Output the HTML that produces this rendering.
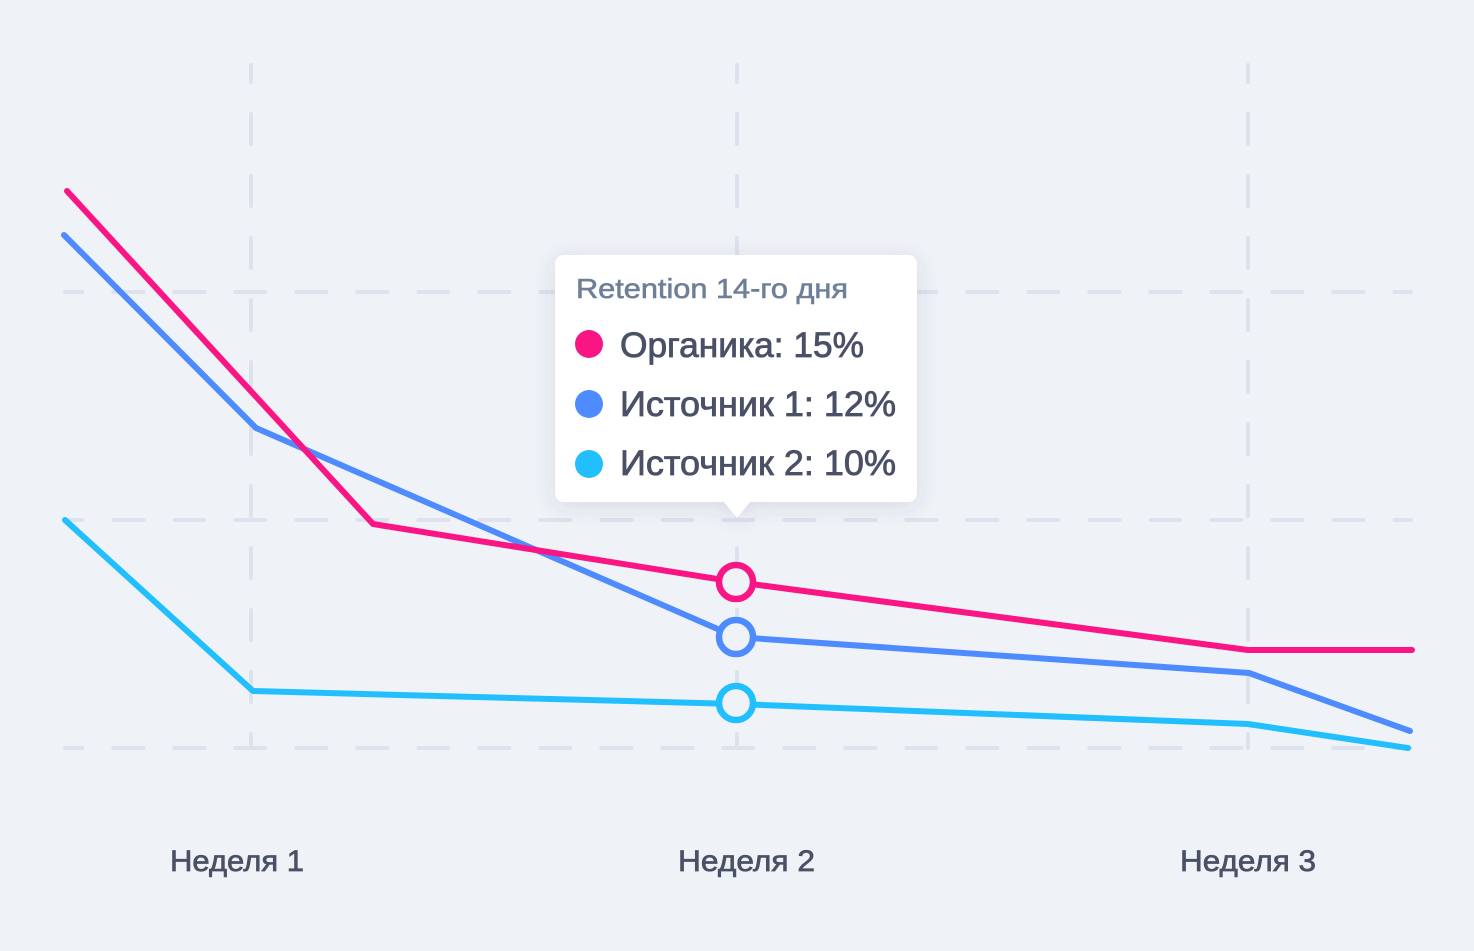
<!DOCTYPE html>
<html>
<head>
<meta charset="utf-8">
<style>
  html,body{margin:0;padding:0;background:#eff2f7;}
  svg{display:block;}
  text{font-family:"Liberation Sans","Noto Sans CJK SC",sans-serif;}
</style>
</head>
<body>
<svg width="1474" height="951" viewBox="0 0 1474 951" xmlns="http://www.w3.org/2000/svg">
  <defs>
    <filter id="sh" x="-20%" y="-20%" width="140%" height="150%">
      <feDropShadow dx="0" dy="4" stdDeviation="10" flood-color="#3c4670" flood-opacity="0.14"/>
    </filter>
  </defs>
  <rect width="1474" height="951" fill="#eff2f7"/>

  <!-- grid -->
  <g stroke="#dde2ec" stroke-width="4" stroke-linecap="round" fill="none">
    <line x1="65" y1="292" x2="1411" y2="292" stroke-dasharray="30 31" stroke-dashoffset="12.7"/>
    <line x1="65" y1="520" x2="1411" y2="520" stroke-dasharray="30 31" stroke-dashoffset="12.7"/>
    <line x1="65" y1="748" x2="1411" y2="748" stroke-dasharray="30 31" stroke-dashoffset="12.7"/>
    <line x1="251" y1="65" x2="251" y2="748" stroke-dasharray="30 32" stroke-dashoffset="13"/>
    <line x1="737" y1="65" x2="737" y2="748" stroke-dasharray="30 32" stroke-dashoffset="13"/>
    <line x1="1248" y1="65" x2="1248" y2="748" stroke-dasharray="30 32" stroke-dashoffset="13"/>
  </g>

  <!-- series -->
  <g fill="none" stroke-width="6" stroke-linecap="round" stroke-linejoin="round">
    <polyline stroke="#22bfff" points="65,520 253,691 736,704 1248,724 1408,748"/>
    <polyline stroke="#4d8bff" points="64,235 256,428 736,637 1249,673 1410,731"/>
    <polyline stroke="#fa1584" points="67,191 373,524 736,582 1248,650 1412,650"/>
  </g>

  <!-- markers -->
  <g fill="#eff2f7" stroke-width="6.5">
    <circle cx="736" cy="582" r="17" stroke="#fa1584"/>
    <circle cx="736" cy="637" r="17" stroke="#4d8bff"/>
    <circle cx="736" cy="703" r="17" stroke="#22bfff"/>
  </g>

  <!-- tooltip -->
  <path filter="url(#sh)" fill="#ffffff"
        d="M565,255 H907 Q917,255 917,265 V492 Q917,502 907,502 H750 L737,518 L724,502 H565 Q555,502 555,492 V265 Q555,255 565,255 Z"/>
  <text x="576" y="298" font-size="28" fill="#6e7f98" stroke="#6e7f98" stroke-width="0.6" textLength="272" lengthAdjust="spacingAndGlyphs">Retention 14-го дня</text>
  <circle cx="589" cy="344" r="14" fill="#fa1584"/>
  <circle cx="589" cy="404" r="14" fill="#4d8bff"/>
  <circle cx="589" cy="464" r="14" fill="#22bfff"/>
  <g fill="#4a5166" stroke="#4a5166" stroke-width="0.8">
    <text x="620" y="357" font-size="35" textLength="244" lengthAdjust="spacingAndGlyphs">Органика: 15%</text>
    <text x="620" y="416" font-size="35" textLength="276" lengthAdjust="spacingAndGlyphs">Источник 1: 12%</text>
    <text x="620" y="475" font-size="35" textLength="276" lengthAdjust="spacingAndGlyphs">Источник 2: 10%</text>
  </g>

  <!-- x labels -->
  <g fill="#4a5166" stroke="#4a5166" stroke-width="0.7">
    <text x="170" y="871" font-size="30" textLength="134" lengthAdjust="spacingAndGlyphs">Неделя 1</text>
    <text x="678" y="871" font-size="30" textLength="137" lengthAdjust="spacingAndGlyphs">Неделя 2</text>
    <text x="1180" y="871" font-size="30" textLength="136" lengthAdjust="spacingAndGlyphs">Неделя 3</text>
  </g>
</svg>
</body>
</html>
